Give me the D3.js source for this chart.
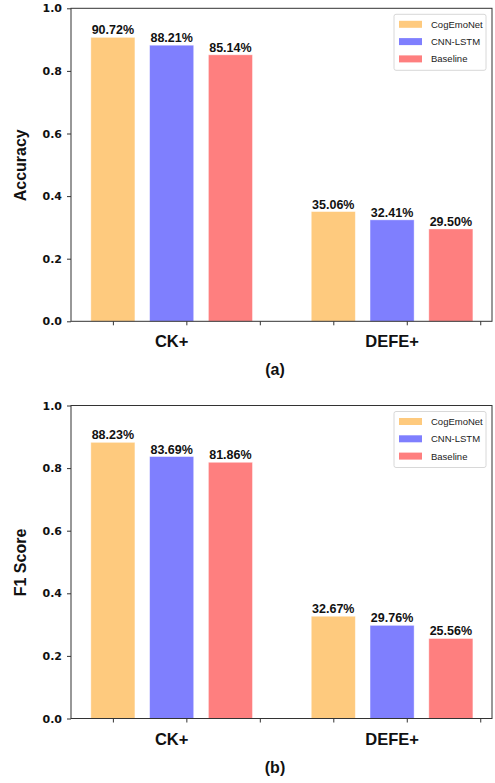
<!DOCTYPE html>
<html>
<head>
<meta charset="utf-8">
<script src="https://cdn.jsdelivr.net/npm/d3@7"></script>
<style>
  body { margin: 0; background: #fff; }
  text { font-family: "Liberation Sans", Arial, sans-serif; }
</style>
</head>
<body>
<svg id="chart" width="495" height="783"></svg>
<script>
// dữ liệu
const datasets = ["CK+", "DEFE+"];
const models = ["CogEmoNet", "CNN-LSTM", "Baseline"];
const accuracy = [[0.9072, 0.8821, 0.8514], [0.3506, 0.3241, 0.2950]];
const f1score = [[0.8823, 0.8369, 0.8186], [0.3267, 0.2976, 0.2556]];
const yTicks = [0.0, 0.2, 0.4, 0.6, 0.8, 1.0];
const xTicks = [0, 1, 2, 3, 4, 5];

const colors = ["#FECA7E", "#7F7FFE", "#FE7F7F"];
const svg = d3.select("#chart");

const x = d3.scaleLinear().domain([-0.57, 5.16]).range([71, 492]);

function drawPanel(top, values, yLabel, title) {
  const y = d3.scaleLinear().domain([0, 1]).range([top + 313, top]);
  const g = svg.append("g");

  // bars
  values.forEach((grp, i) => {
    grp.forEach((v, j) => {
      const cx = i * 3 + j * 0.8;
      g.append("rect")
        .attr("x", x(cx - 0.3))
        .attr("y", y(v))
        .attr("width", x(cx + 0.3) - x(cx - 0.3))
        .attr("height", y(0) - y(v))
        .attr("fill", colors[j])
        .attr("stroke", "#fff")
        .attr("stroke-opacity", 0.5)
        .attr("stroke-width", 0.8);
      g.append("text")
        .attr("x", x(cx))
        .attr("y", y(v) - 3)
        .attr("text-anchor", "middle")
        .attr("font-size", 12.5)
        .attr("font-weight", "bold")
        .attr("fill", "#111")
        .text((v * 100).toFixed(2) + "%");
    });
  });

  // trục
  const yAxis = g.append("g")
    .attr("transform", `translate(${x.range()[0]},0)`)
    .call(d3.axisLeft(y).tickValues(yTicks).tickFormat(d3.format(".1f")).tickSize(4).tickPadding(5));
  yAxis.selectAll("text").attr("font-size", 11).attr("font-weight", "bold").attr("fill", "#111")
    .style("font-family", "'DejaVu Sans', sans-serif");

  const xAxis = g.append("g")
    .attr("transform", `translate(0,${y(0)})`)
    .call(d3.axisBottom(x).tickValues(xTicks).tickFormat("").tickSize(4));

  [yAxis, xAxis].forEach(a => {
    a.select(".domain").remove();
    a.selectAll("line").attr("stroke", "#333");
  });

  // khung
  g.append("rect")
    .attr("x", x.range()[0]).attr("y", top)
    .attr("width", x.range()[1] - x.range()[0])
    .attr("height", 313)
    .attr("fill", "none")
    .attr("stroke", "#333")
    .attr("stroke-width", 1);

  // nhãn nhóm
  datasets.forEach((d, i) => {
    g.append("text")
      .attr("x", x(i * 3 + 0.8))
      .attr("y", y(0) + 26)
      .attr("text-anchor", "middle")
      .attr("font-size", 16.5)
      .attr("font-weight", "bold")
      .attr("fill", "#111")
      .text(d);
  });

  g.append("text")
    .attr("transform", `translate(26,${top + 157}) rotate(-90)`)
    .attr("text-anchor", "middle")
    .attr("font-size", 16)
    .attr("font-weight", "bold")
    .attr("fill", "#111")
    .text(yLabel);

  g.append("text")
    .attr("x", 275)
    .attr("y", y(0) + 54)
    .attr("text-anchor", "middle")
    .attr("font-size", 16)
    .attr("font-weight", "bold")
    .attr("fill", "#111")
    .text(title);

  // chú giải
  const legend = g.append("g").attr("transform", `translate(394,${top + 6})`);
  legend.append("rect")
    .attr("width", 92).attr("height", 56)
    .attr("rx", 2)
    .attr("fill", "#fff")
    .attr("stroke", "#d8d8d8");
  models.forEach((m, j) => {
    legend.append("rect")
      .attr("x", 5).attr("y", 6.5 + j * 17.3)
      .attr("width", 23).attr("height", 7)
      .attr("fill", colors[j]);
    legend.append("text")
      .attr("x", 37).attr("y", 13.5 + j * 17.3)
      .attr("font-size", 9.5)
      .attr("fill", "#222")
      .text(m);
  });
}

drawPanel(8.3, accuracy, "Accuracy", "(a)");
drawPanel(405.5, f1score, "F1 Score", "(b)");
</script>
</body>
</html>
